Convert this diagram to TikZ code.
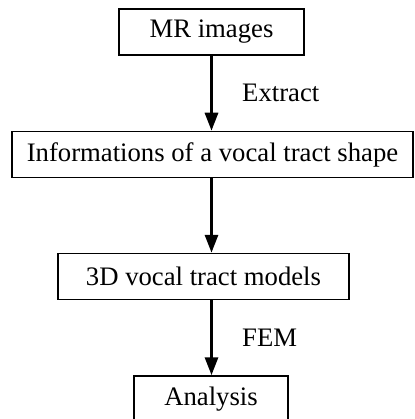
\documentclass[tikz,border=0pt]{standalone}
\usepackage{fontspec}
\setmainfont{Liberation Serif}
\usepackage{tikz}
\usetikzlibrary{positioning,calc,arrows.meta}

\begin{document}
\begin{tikzpicture}[
    x=1pt,y=1pt,
    box/.style={draw=black,line width=1.5pt,inner sep=0pt,
                font=\fontsize{26.7}{30}\selectfont,align=center,minimum height=46pt},
    lbl/.style={font=\fontsize{26.7}{30}\selectfont,inner sep=0pt,anchor=west},
    arr/.style={-{Triangle[length=18pt,width=13pt]},line width=3pt,black},
  ]
    \useasboundingbox (0,0) rectangle (414,-419);
    \node[box,minimum width=185pt] (mr)       at (211.5,-32)  {MR images};
    \node[box,minimum width=401pt] (info)     at (212.5,-154.5) {Informations of a vocal tract shape};
    \node[box,minimum width=291pt] (model)    at (203.5,-276.5) {3D vocal tract models};
    \node[box,minimum width=154pt] (analysis) at (211,-399)   {Analysis};
    \node[lbl] (extract) at (242,-93)  {Extract};
    \node[lbl] (fem)     at (242,-338) {FEM};

    \draw[arr] (mr.south) -- (mr.south |- info.north);
    \draw[arr] (info.south -| mr.south) -- (mr.south |- model.north);
    \draw[arr] (model.south -| mr.south) -- (mr.south |- analysis.north);
  \end{tikzpicture}
\end{document}
